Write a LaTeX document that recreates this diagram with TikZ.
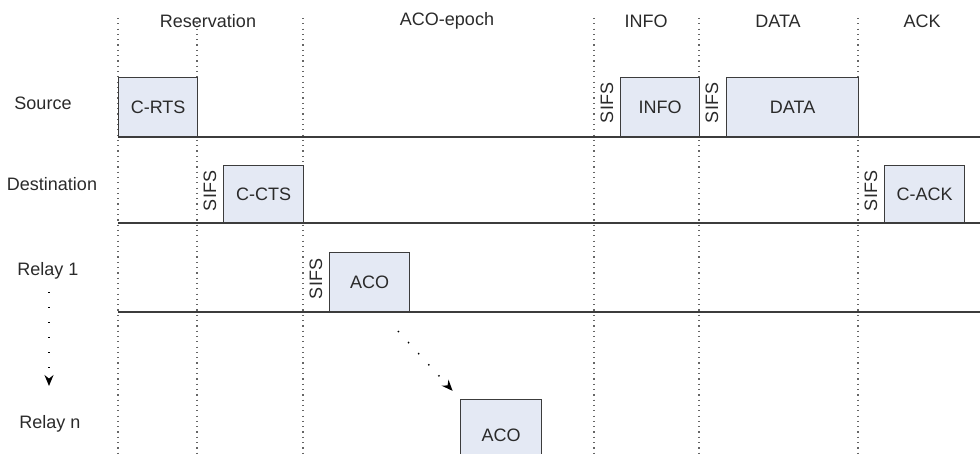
\documentclass[tikz,border=0pt]{standalone}
\usepackage{fontspec}
\setmainfont{Liberation Sans}
\usetikzlibrary{arrows.meta}
\definecolor{boxfill}{HTML}{E4E9F4}
\definecolor{ink}{HTML}{2A2A2A}
\definecolor{linec}{HTML}{3C3C3C}
\definecolor{gridc}{HTML}{666666}
\begin{document}
\begin{tikzpicture}[x=1pt,y=-1pt,
  font=\fontsize{18}{20}\selectfont, text=ink,
  frame/.style={draw=linec, line width=1.3pt, fill=boxfill, minimum height=58pt, inner sep=0pt, anchor=south west},
  sifs/.style={rotate=90, inner sep=0pt},
  gridline/.style={gridc, line width=1.2pt, dash pattern=on 1.2pt off 4.1pt},
  baseline/.style={linec, line width=1.6pt},
  lbl/.style={inner sep=0pt},
  dotarrow/.style={black, line width=1.4pt, dash pattern=on 1.4pt off 13.6pt, -{Stealth[length=11pt,width=9pt]}}]

\useasboundingbox (0,0) rectangle (980,454);

% vertical dotted grid lines
\foreach \x in {118,197,303,594,699,858}
  \draw[gridline] (\x,18) -- (\x,454);

% time axes of each station
\draw[baseline] (118,137) -- (980,137);
\draw[baseline] (118,223) -- (980,223);
\draw[baseline] (118,312) -- (980,312);

% header labels
\node[lbl] (hres) at (208,21) {Reservation};
\node[lbl] (haco) at (447,21) {ACO-epoch};
\node[lbl] (hinfo) at (646,21) {INFO};
\node[lbl] (hdata) at (778,21) {DATA};
\node[lbl] (hack) at (922,21) {ACK};

% row labels
\node[lbl] (src) at (43,103) {Source};
\node[lbl] (dst) at (52,184) {Destination};
\node[lbl] (r1) at (48,271) {Relay 1};
\node[lbl] (rn) at (50,424) {Relay n};

% frames
\node[frame, minimum width=79pt, minimum height=59pt] (crts) at (118,137) {C-RTS};
\node[frame, minimum width=80pt, minimum height=57pt] (ccts) at (223,223) {C-CTS};
\node[frame, minimum width=80pt, minimum height=59pt] (aco1) at (329,312) {ACO};
\node[frame, minimum width=79pt, minimum height=59pt] (info) at (620,137) {INFO};
\node[frame, minimum width=132pt, minimum height=59pt] (data) at (726,137) {DATA};
\node[frame, minimum width=80pt, minimum height=57pt] (cack) at (884,223) {C-ACK};
\node[frame, minimum width=81pt, minimum height=72pt, anchor=north west] (acon) at (460,399) {ACO};

% SIFS labels
\node[sifs] (s1) at (210,191) {SIFS};
\node[sifs] (s2) at (316,279) {SIFS};
\node[sifs] (s3) at (607,103) {SIFS};
\node[sifs] (s4) at (712,103) {SIFS};
\node[sifs] (s5) at (871,191) {SIFS};

% dotted arrows
\coordinate (vtop) at (49,292);
\coordinate (vbot) at (49,386);
\draw[dotarrow] (vtop) -- (vbot);
\coordinate (dtop) at (398,331);
\draw[dotarrow, shorten >=11pt] (dtop) -- (acon.north west);
\end{tikzpicture}
\end{document}
